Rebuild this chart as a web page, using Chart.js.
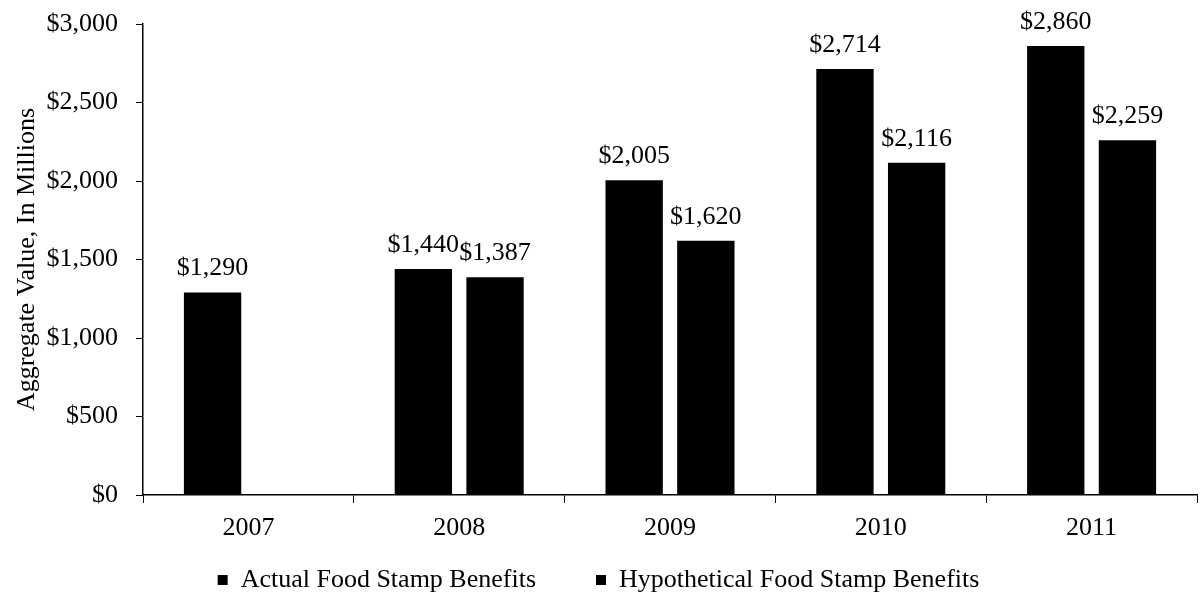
<!DOCTYPE html>
<html>
<head>
<meta charset="utf-8">
<script src="https://cdn.jsdelivr.net/npm/chart.js@4"></script>
<style>
  html, body { margin: 0; padding: 0; background: #fff; }
  #wrap { width: 1203px; height: 596px; }
</style>
</head>
<body>
<div id="wrap"><canvas id="myChart" width="1203" height="596"></canvas></div>
<script>
const years = ['2007', '2008', '2009', '2010', '2011'];
const actualBenefits = [1290, 1440, 2005, 2714, 2860];
const hypotheticalBenefits = [null, 1387, 1620, 2116, 2259];
const yTicks = [0, 500, 1000, 1500, 2000, 2500, 3000];

const serif = '"Liberation Serif", "Times New Roman", serif';
const money = v => '$' + v.toLocaleString('en-US');

// value labels above each bar
const barLabels = {
	id: 'barLabels',
	afterDatasetsDraw(chart) {
		const ctx = chart.ctx;
		ctx.save();
		ctx.font = '26px ' + serif;
		ctx.fillStyle = '#000';
		ctx.textAlign = 'center';
		ctx.textBaseline = 'alphabetic';
		chart.data.datasets.forEach((ds, i) => {
			chart.getDatasetMeta(i).data.forEach((bar, j) => {
				if (ds.data[j] == null) return;
				ctx.fillText(money(ds.data[j]), bar.x, bar.y - 17);
			});
		});
		ctx.restore();
	}
};

// wide legend padding gives the gap between the two items;
// keep the legend box short and pull the row back up when drawing
const legendPad = 60;
const legendTweak = {
	id: 'legendTweak',
	afterInit(chart) {
		const legend = chart.legend;
		const fit = legend.fit;
		const draw = legend.draw;
		legend.fit = function () {
			fit.call(this);
			this.height = 40;
		};
		legend.draw = function () {
			this.top -= legendPad - 11;
			draw.call(this);
			this.top += legendPad - 11;
		};
	}
};

const ctx = document.getElementById('myChart').getContext('2d');
const myChart = new Chart(ctx, {
	type: 'bar',
	data: {
		labels: years,
		datasets: [{
			label: 'Actual Food Stamp Benefits',
			data: actualBenefits,
			backgroundColor: '#000',
			borderWidth: 0
		}, {
			label: 'Hypothetical Food Stamp Benefits',
			data: hypotheticalBenefits,
			backgroundColor: '#000',
			borderWidth: 0
		}]
	},
	options: {
		responsive: false,
		animation: false,
		layout: { padding: { top: 24, right: 6, left: 0, bottom: 0 } },
		datasets: { bar: { barPercentage: 0.8, categoryPercentage: 0.68 } },
		plugins: {
			tooltip: { enabled: false },
			legend: {
				position: 'bottom',
				labels: {
					color: '#000',
					font: { family: serif, size: 26 },
					boxWidth: 10,
					boxHeight: 10,
					padding: legendPad
				}
			}
		},
		scales: {
			x: {
				afterFit: axis => { axis.height = 61; },
				grid: { offset: true, drawOnChartArea: false, tickLength: 8, color: '#000' },
				border: { color: '#000', width: 1.5 },
				ticks: { color: '#000', font: { family: serif, size: 26 }, padding: 10 }
			},
			y: {
				min: 0,
				max: 3000,
				afterFit: axis => { axis.width = 143; axis.paddingTop = 0; axis.paddingBottom = 0; },
				afterBuildTicks: axis => { axis.ticks = yTicks.map(v => ({ value: v })); },
				grid: { drawOnChartArea: false, tickLength: 7, color: '#000' },
				border: { color: '#000', width: 1.5 },
				ticks: { color: '#000', font: { family: serif, size: 26 }, padding: 18, callback: v => money(v) },
				title: { display: true, text: 'Aggregate Value, In Millions', color: '#000', font: { family: serif, size: 26 }, padding: { top: 12, bottom: 0 } }
			}
		}
	},
	plugins: [barLabels, legendTweak]
});
</script>
</body>
</html>
